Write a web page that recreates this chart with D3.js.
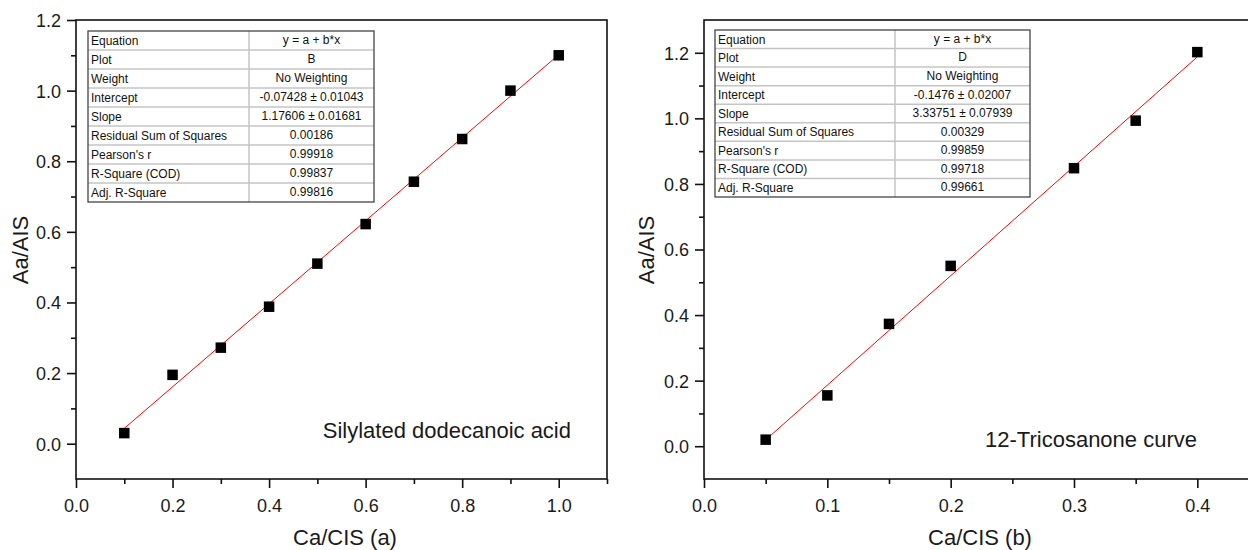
<!DOCTYPE html>
<html>
<head>
<meta charset="utf-8">
<script src="https://cdn.jsdelivr.net/npm/d3@7"></script>
<style>
  body { margin: 0; background: #fff; }
  svg { display: block; font-family: "Liberation Sans", Arial, sans-serif; }
</style>
</head>
<body>
<svg width="1248" height="550"></svg>
<script>
// panel (a): silylated dodecanoic acid
const concA = [0.1, 0.2, 0.3, 0.4, 0.5, 0.6, 0.7, 0.8, 0.9, 1.0];
const ratioA = [0.03, 0.195, 0.272, 0.388, 0.51, 0.622, 0.742, 0.863, 1.0, 1.1];
const interceptA = -0.07428;
const slopeA = 1.17606;
const statsA = ["y = a + b*x", "B", "No Weighting", "-0.07428 \u00b1 0.01043",
  "1.17606 \u00b1 0.01681", "0.00186", "0.99918", "0.99837", "0.99816"];

// panel (b): 12-tricosanone
const concB = [0.05, 0.1, 0.15, 0.2, 0.3, 0.35, 0.4];
const ratioB = [0.02, 0.155, 0.373, 0.55, 0.848, 0.993, 1.202];
const interceptB = -0.1476;
const slopeB = 3.33751;
const statsB = ["y = a + b*x", "D", "No Weighting", "-0.1476 \u00b1 0.02007",
  "3.33751 \u00b1 0.07939", "0.00329", "0.99859", "0.99718", "0.99661"];

const statLabels = ["Equation", "Plot", "Weight", "Intercept", "Slope",
  "Residual Sum of Squares", "Pearson's r", "R-Square (COD)", "Adj. R-Square"];

const yTicks = [0, 0.2, 0.4, 0.6, 0.8, 1.0, 1.2];
const yMinorTicks = [0.1, 0.3, 0.5, 0.7, 0.9, 1.1];
const xTicksA = [0, 0.2, 0.4, 0.6, 0.8, 1.0];
const xMinorA = [0.1, 0.3, 0.5, 0.7, 0.9, 1.1];
const xTicksB = [0, 0.1, 0.2, 0.3, 0.4];
const xMinorB = [0.05, 0.15, 0.25, 0.35, 0.45];

const svg = d3.select("svg");

function drawPanel(p) {
  const x = d3.scaleLinear().domain(p.xDomain).range(p.xRange);
  const y = d3.scaleLinear().domain(p.yDomain).range([479, 20]);
  const g = svg.append("g");

  // frame
  g.append("rect")
    .attr("x", p.xRange[0]).attr("y", 20)
    .attr("width", p.xRange[1] - p.xRange[0]).attr("height", 459)
    .attr("fill", "none").attr("stroke", "#111").attr("stroke-width", 1.6);

  // minor ticks
  g.append("g").attr("transform", `translate(0,479)`)
    .call(d3.axisBottom(x).tickValues(p.xMinor).tickSize(5).tickFormat(""))
    .call(a => a.select(".domain").remove());
  g.append("g").attr("transform", `translate(${p.xRange[0]},0)`)
    .call(d3.axisLeft(y).tickValues(yMinorTicks).tickSize(5).tickFormat(""))
    .call(a => a.select(".domain").remove());

  // major ticks
  const xAxis = g.append("g").attr("transform", `translate(0,479)`)
    .call(d3.axisBottom(x).tickValues(p.xTicks).tickSize(9).tickFormat(d3.format(".1f")));
  xAxis.select(".domain").remove();
  xAxis.selectAll("text").attr("y", 33).attr("dy", 0)
    .attr("font-size", 18).attr("font-family", null).attr("fill", "#1a1a1a");

  const yAxis = g.append("g").attr("transform", `translate(${p.xRange[0]},0)`)
    .call(d3.axisLeft(y).tickValues(yTicks).tickSize(9).tickFormat(d3.format(".1f")));
  yAxis.select(".domain").remove();
  yAxis.selectAll("text").attr("x", -15).attr("dy", "0.36em")
    .attr("font-size", 18).attr("font-family", null).attr("fill", "#1a1a1a");

  g.selectAll(".tick line").attr("stroke", "#111").attr("stroke-width", 1.6);

  // axis titles
  g.append("text")
    .attr("x", p.xTitleX).attr("y", 545)
    .attr("text-anchor", "middle").attr("font-size", 22).attr("fill", "#1a1a1a")
    .text(p.xTitle);
  g.append("text")
    .attr("transform", `translate(${p.yTitleX},250) rotate(-90)`)
    .attr("text-anchor", "middle").attr("font-size", 22).attr("fill", "#1a1a1a")
    .text("Aa/AIS");

  // fit line
  const x0 = d3.min(p.xs), x1 = d3.max(p.xs);
  g.append("line")
    .attr("x1", x(x0)).attr("y1", y(p.a + p.b * x0))
    .attr("x2", x(x1)).attr("y2", y(p.a + p.b * x1))
    .attr("stroke", "#ff0000").attr("stroke-width", 1);

  // markers
  const s = 10.5;
  g.selectAll(".pt").data(p.xs.map((v, i) => [v, p.ys[i]]))
    .enter().append("rect")
    .attr("x", d => x(d[0]) - s / 2).attr("y", d => y(d[1]) - s / 2)
    .attr("width", s).attr("height", s).attr("fill", "#000");

  // annotation
  g.append("text")
    .attr("x", p.noteX).attr("y", p.noteY)
    .attr("text-anchor", "end").attr("font-size", 22).attr("fill", "#1a1a1a")
    .text(p.note);

  // fit table
  const t = p.table;
  const rowH = (t.bottom - t.top) / statLabels.length;
  const tg = g.append("g");
  tg.append("rect").attr("x", t.left).attr("y", t.top)
    .attr("width", t.right - t.left).attr("height", t.bottom - t.top)
    .attr("fill", "#fff");
  statLabels.forEach((lab, i) => {
    const ty = t.top + i * rowH;
    if (i > 0) {
      tg.append("line").attr("x1", t.left).attr("x2", t.right)
        .attr("y1", ty).attr("y2", ty)
        .attr("stroke", "#c4c4c4").attr("stroke-width", 1.5);
    }
    tg.append("text").attr("x", t.left + 3).attr("y", ty + rowH / 2)
      .attr("dy", "0.36em").attr("font-size", 12).attr("fill", "#111").text(lab);
    tg.append("text").attr("x", (t.split + t.right) / 2).attr("y", ty + rowH / 2)
      .attr("dy", "0.3em").attr("text-anchor", "middle")
      .attr("font-size", 12).attr("fill", "#111").text(p.stats[i]);
  });
  tg.append("line").attr("x1", t.split).attr("x2", t.split)
    .attr("y1", t.top).attr("y2", t.bottom)
    .attr("stroke", "#c4c4c4").attr("stroke-width", 1.5);
  tg.append("rect").attr("x", t.left).attr("y", t.top)
    .attr("width", t.right - t.left).attr("height", t.bottom - t.top)
    .attr("fill", "none").attr("stroke", "#444").attr("stroke-width", 1.3);
}

drawPanel({
  xs: concA, ys: ratioA, a: interceptA, b: slopeA, stats: statsA,
  xDomain: [0, 1.1], xRange: [76, 607], yDomain: [-0.1, 1.2],
  xTicks: xTicksA, xMinor: xMinorA,
  xTitle: "Ca/CIS (a)", xTitleX: 345, yTitleX: 28,
  note: "Silylated dodecanoic acid", noteX: 571, noteY: 438,
  table: { left: 88, right: 374, top: 31, bottom: 202, split: 249 }
});

drawPanel({
  xs: concB, ys: ratioB, a: interceptB, b: slopeB, stats: statsB,
  xDomain: [0, 0.45], xRange: [704, 1259], yDomain: [-0.1, 1.3],
  xTicks: xTicksB, xMinor: xMinorB,
  xTitle: "Ca/CIS (b)", xTitleX: 980, yTitleX: 654,
  note: "12-Tricosanone curve", noteX: 1197, noteY: 447,
  table: { left: 715, right: 1030, top: 30, bottom: 197, split: 895 }
});
</script>
</body>
</html>
